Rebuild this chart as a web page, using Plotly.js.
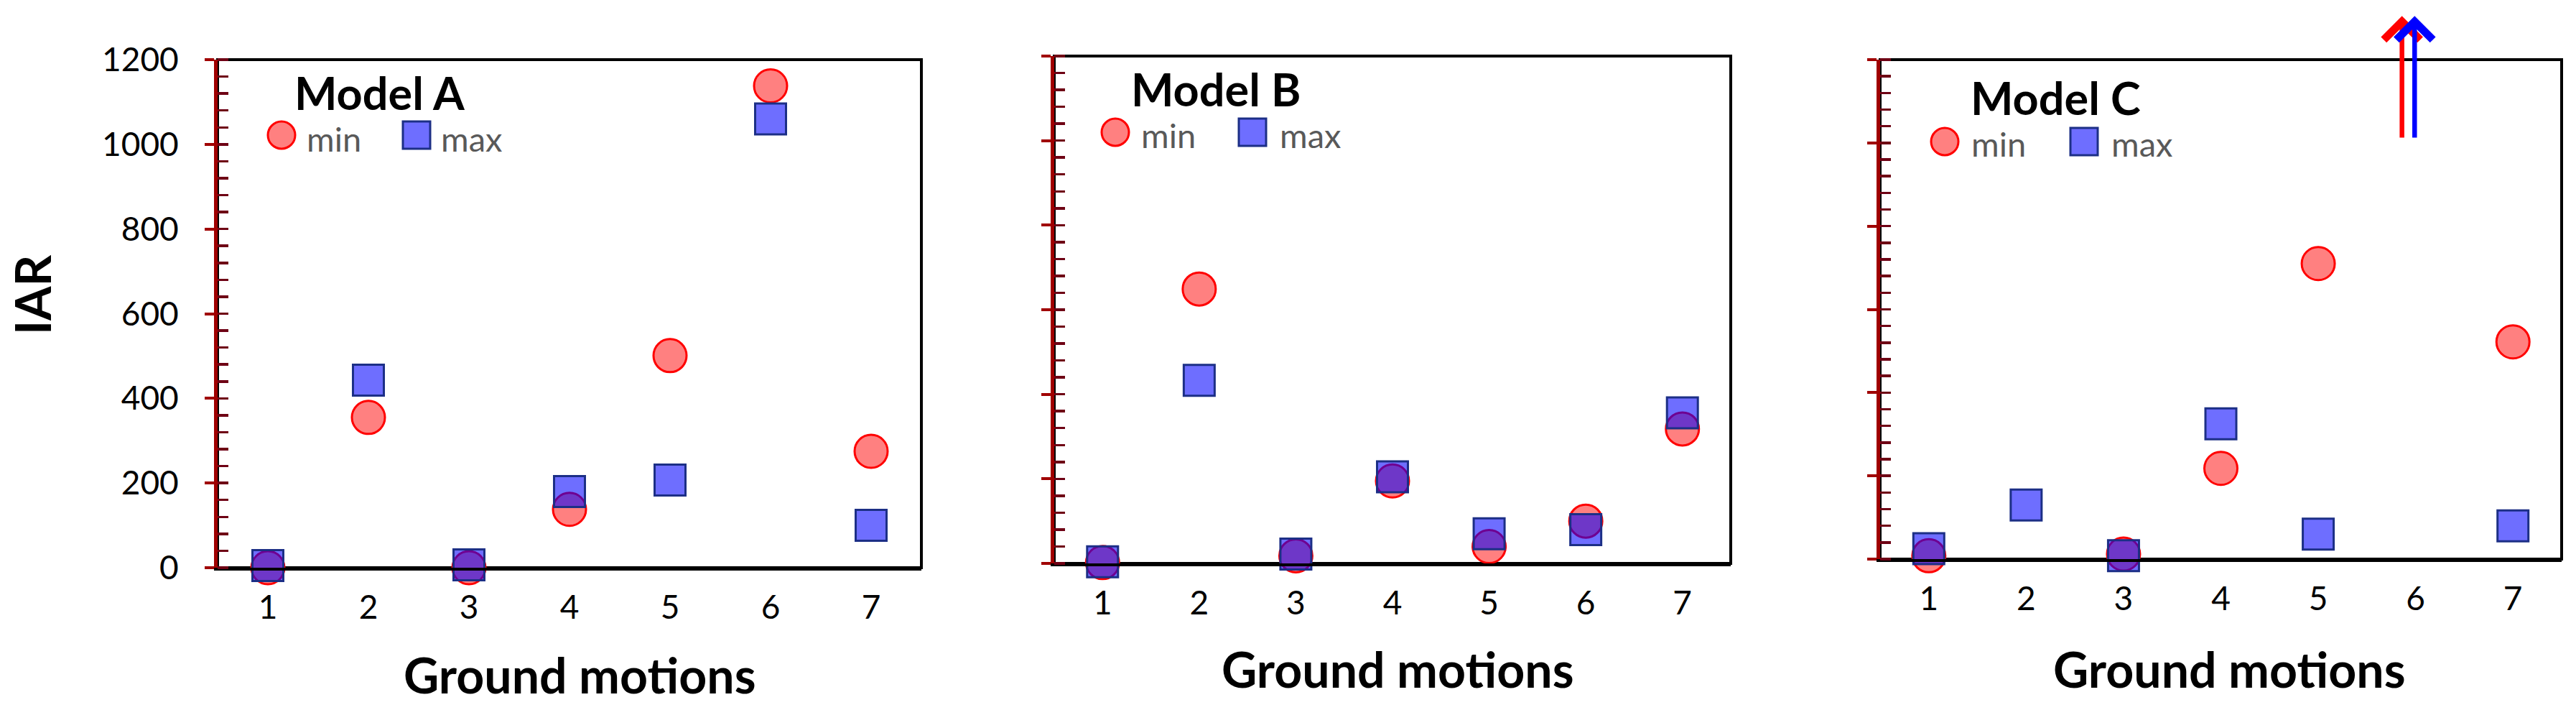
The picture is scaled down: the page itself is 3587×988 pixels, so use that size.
<!DOCTYPE html>
<html>
<head>
<meta charset="utf-8">
<script src="https://cdn.plot.ly/plotly-3.0.1.min.js"></script>
<style>
html,body{margin:0;padding:0;background:#ffffff;}
#chart{width:3587px;height:988px;}
</style>
</head>
<body>
<div id="chart"></div>
<script>
// ---------------- data ----------------
const groundMotions = [1, 2, 3, 4, 5, 6, 7];
const modelNames = ['Model A', 'Model B', 'Model C'];
const seriesNames = ['min', 'max'];
const yTickVals = [0, 200, 400, 600, 800, 1000, 1200];
const yTickText = ['0', '200', '400', '600', '800', '1000', '1200'];

const modelA_min = [0, 355, 0, 138, 501, 1138, 275];
const modelA_max = [5, 443, 7, 180, 207, 1060, 100];
const modelB_min = [2, 649, 18, 195, 40, 100, 318];
const modelB_max = [4, 433, 22, 205, 70, 80, 356];
const modelC_min = [8, null, 12, 218, 710, null, 522];
const modelC_max = [25, 130, 8, 325, 60, null, 80];
// Model C, ground motion 6: min and max both exceed the axis (drawn as arrows)
const modelC_offscale = [6];

// ---------------- layout geometry (pixels) ----------------
const W = 3587, H = 988;
const panels = [
  {l: 303,  r: 1283, t: 83, b: 790},
  {l: 1468, r: 2410, t: 78, b: 784},
  {l: 2618, r: 3567, t: 83, b: 778}
];
const legendSpots = [
  {cx: 392,  sx: 580,  cy: 188, minL: 430,  maxL: 617,  base: 211, modelL: 413,  modelBase: 153, titleX: 807,  titleBase: 965},
  {cx: 1553, sx: 1744, cy: 184, minL: 1592, maxL: 1785, base: 206, modelL: 1578, modelBase: 148, titleX: 1947, titleBase: 957},
  {cx: 2708, sx: 2902, cy: 197, minL: 2748, maxL: 2943, base: 218, modelL: 2747, modelBase: 160, titleX: 3104, titleBase: 957}
];
const px2x = x => x / W;
const px2y = y => 1 - y / H;

const FONT = 'Lato, "Open Sans", sans-serif';
const AXIS_RED = '#a00000';
const MINOR_RED = '#6e0014';
const MIN_FILL = '#ff8080', MIN_LINE = '#ff0000';
const MAX_FILL = 'rgba(0,0,255,0.57)', MAX_LINE = '#1c2f86';

const mins = [modelA_min, modelB_min, modelC_min];
const maxs = [modelA_max, modelB_max, modelC_max];

const traces = [];
const layout = {
  width: W, height: H,
  margin: {l: 0, r: 0, t: 0, b: 0},
  paper_bgcolor: '#ffffff', plot_bgcolor: '#ffffff',
  showlegend: false,
  font: {family: FONT, color: '#000'},
  shapes: [], annotations: []
};

panels.forEach((p, i) => {
  const n = i === 0 ? '' : String(i + 1);
  const xa = 'x' + n, ya = 'y' + n;
  traces.push({
    type: 'scatter', mode: 'markers', x: groundMotions, y: mins[i], name: seriesNames[0],
    xaxis: xa, yaxis: ya, cliponaxis: false, hoverinfo: 'skip',
    marker: {symbol: 'circle', size: 46, color: MIN_FILL, line: {color: MIN_LINE, width: 3}}
  });
  traces.push({
    type: 'scatter', mode: 'markers', x: groundMotions, y: maxs[i], name: seriesNames[1],
    xaxis: xa, yaxis: ya, cliponaxis: false, hoverinfo: 'skip',
    marker: {symbol: 'square', size: 43, color: MAX_FILL, line: {color: MAX_LINE, width: 3}}
  });

  layout['xaxis' + n] = {
    domain: [px2x(p.l), px2x(p.r)], anchor: ya,
    range: [0.5, 7.5], showgrid: false, zeroline: false,
    showline: true, linecolor: '#000', linewidth: 4,
    ticks: '', tickmode: 'array', tickvals: groundMotions,
    tickfont: {family: FONT, size: 46, color: '#000'},
    ticklabelstandoff: 12, fixedrange: true
  };
  layout['yaxis' + n] = {
    domain: [px2y(p.b), px2y(p.t)], anchor: xa,
    range: [0, 1200], showgrid: false, zeroline: false,
    showline: true, linecolor: AXIS_RED, linewidth: 5,
    ticks: 'outside', ticklen: 13, tickwidth: 4, tickcolor: AXIS_RED,
    tickmode: 'array', tickvals: yTickVals, ticktext: yTickText,
    showticklabels: i === 0,
    tickfont: {family: FONT, size: 46, color: '#000'},
    ticklabelstandoff: 27,
    minor: {ticks: 'inside', ticklen: 15, tickwidth: 3.5, tickcolor: MINOR_RED, dtick: 40, tick0: 0, showgrid: false},
    fixedrange: true
  };

  // black frame
  layout.shapes.push({
    type: 'rect', xref: xa + ' domain', yref: ya + ' domain',
    x0: 0, x1: 1, y0: 0, y1: 1, layer: 'below',
    line: {color: '#000', width: 4}, fillcolor: 'rgba(0,0,0,0)'
  });

  const s = legendSpots[i];
  // legend symbols
  layout.shapes.push({
    type: 'circle', xref: 'paper', yref: 'paper', xsizemode: 'pixel', ysizemode: 'pixel',
    xanchor: px2x(s.cx), yanchor: px2y(s.cy), x0: -19, x1: 19, y0: -19, y1: 19,
    fillcolor: MIN_FILL, line: {color: MIN_LINE, width: 3}, layer: 'above'
  });
  layout.shapes.push({
    type: 'rect', xref: 'paper', yref: 'paper', xsizemode: 'pixel', ysizemode: 'pixel',
    xanchor: px2x(s.sx), yanchor: px2y(s.cy), x0: -19, x1: 19, y0: -19, y1: 19,
    fillcolor: MAX_FILL, line: {color: MAX_LINE, width: 3}, layer: 'above'
  });
  // legend texts
  const legFs = 47;
  [[seriesNames[0], s.minL], [seriesNames[1], s.maxL]].forEach(([t, lx]) => {
    layout.annotations.push({
      text: t, xref: 'paper', yref: 'paper', x: px2x(lx - 4), y: px2y(s.base - 0.387 * legFs),
      xanchor: 'left', yanchor: 'middle', showarrow: false, borderpad: 0,
      font: {family: FONT, size: legFs, color: '#595959'}
    });
  });
  const mFs = 63;
  layout.annotations.push({
    text: modelNames[i], xref: 'paper', yref: 'paper', x: px2x(s.modelL - 4), y: px2y(s.modelBase - 0.387 * mFs),
    xanchor: 'left', yanchor: 'middle', showarrow: false, borderpad: 0,
    font: {family: FONT, size: mFs, color: '#000', weight: 700}
  });
  // x-axis title
  const tFs = 68;
  layout.annotations.push({
    text: 'Ground motions', xref: 'paper', yref: 'paper', x: px2x(s.titleX), y: px2y(s.titleBase - 0.387 * tFs),
    xanchor: 'center', yanchor: 'middle', showarrow: false,
    font: {family: FONT, size: tFs, color: '#000', weight: 700}
  });
});

// y-axis title
layout.annotations.push({
  text: 'IAR', xref: 'paper', yref: 'paper', x: px2x(44), y: px2y(411),
  xanchor: 'center', yanchor: 'middle', textangle: -90, showarrow: false,
  font: {family: FONT, size: 68, color: '#000', weight: 700}
});

// off-scale arrows for Model C
modelC_offscale.forEach(g => {
  [[g - 0.14, MIN_LINE], [g - 0.01, '#0000ff']].forEach(([xx, col]) => {
    layout.annotations.push({
      xref: 'x3', yref: 'y3', axref: 'x3', ayref: 'y3',
      x: xx, y: 1305, ax: xx, ay: 1010, text: '',
      showarrow: true, arrowhead: 4, arrowsize: 1.5, arrowwidth: 6.5, arrowcolor: col, standoff: 0
    });
  });
});

Plotly.newPlot('chart', traces, layout, {staticPlot: true, displayModeBar: false});
</script>
</body>
</html>
